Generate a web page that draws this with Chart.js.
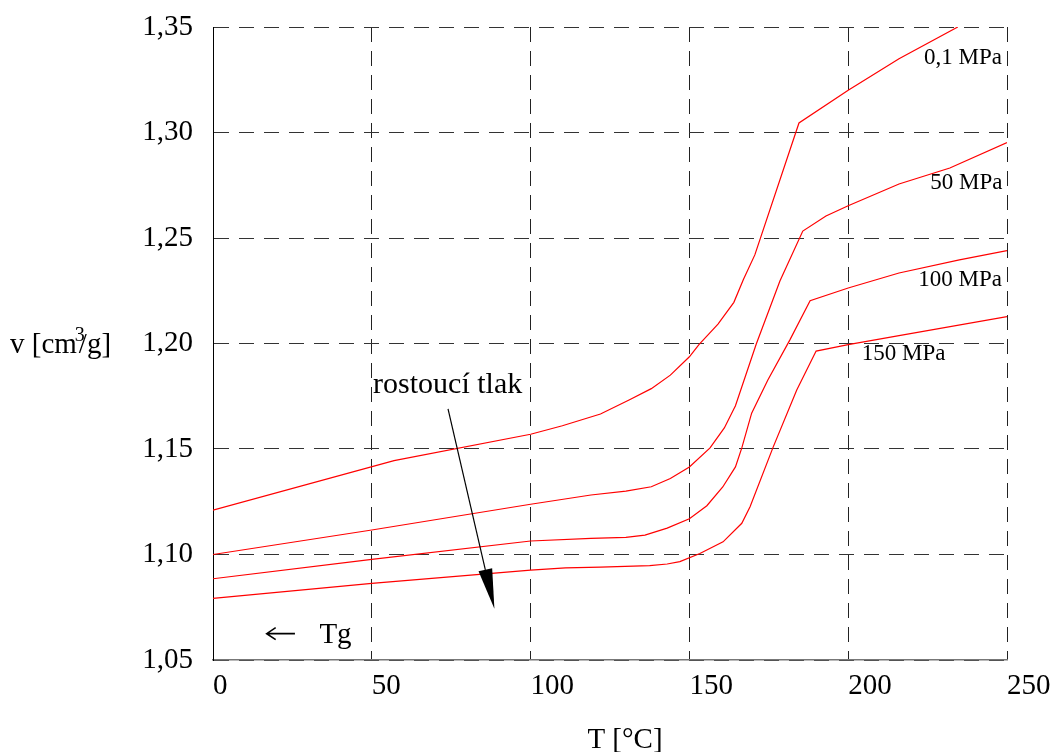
<!DOCTYPE html>
<html>
<head>
<meta charset="utf-8">
<script src="https://cdn.jsdelivr.net/npm/chart.js@4.4.0/dist/chart.umd.min.js"></script>
<style>
  body { margin: 0; background: #fff; }
</style>
</head>
<body>
<canvas id="chart" width="1059" height="752"></canvas>
<script>
// T [°C] and v [cm3/g], one pair of arrays per pressure
const tempP01 = [0, 57, 100, 110, 122, 131, 138, 144, 150, 153, 159, 164, 167, 170.6, 184.5, 200, 216, 234.5];
const volP01  = [1.121, 1.1445, 1.157, 1.161, 1.1666, 1.1732, 1.1786, 1.185, 1.1937, 1.1995, 1.2092, 1.2195, 1.2303, 1.242, 1.3045, 1.320, 1.335, 1.35];

const tempP50 = [0, 50, 100, 119, 130, 138, 144, 150, 156.5, 161, 164.5, 171, 178.5, 185.7, 193, 200, 216, 232, 250];
const volP50  = [1.100, 1.1116, 1.1238, 1.1282, 1.130, 1.1321, 1.136, 1.1415, 1.1505, 1.160, 1.1705, 1.1995, 1.2296, 1.2533, 1.2604, 1.2653, 1.2756, 1.2832, 1.2952];

const tempP100 = [0, 50, 100, 119, 130, 136, 143, 150, 155.5, 160.5, 164.5, 166.5, 169.6, 174.7, 181.6, 188, 200, 216, 235, 250];
const volP100  = [1.0885, 1.0977, 1.1064, 1.1076, 1.1081, 1.1092, 1.1125, 1.1169, 1.1231, 1.132, 1.1415, 1.1505, 1.167, 1.1827, 1.2016, 1.2203, 1.2263, 1.2334, 1.2396, 1.244];

const tempP150 = [0, 50, 100, 111, 122, 137.5, 143, 147, 153.3, 160.6, 166.5, 169.1, 176.4, 183.8, 189.9, 200, 216, 250];
const volP150  = [1.0792, 1.0863, 1.0926, 1.0937, 1.094, 1.0947, 1.0955, 1.0966, 1.1005, 1.106, 1.1148, 1.1226, 1.151, 1.178, 1.1964, 1.1995, 1.2037, 1.2127];

const pressureLabels = ['0,1 MPa', '50 MPa', '100 MPa', '150 MPa'];

const serif = "'Liberation Serif', 'DejaVu Serif', serif";

function pairs(xs, ys) {
  return xs.map((x, i) => ({ x: x, y: ys[i] }));
}

function curve(label, xs, ys) {
  return {
    label: label,
    data: pairs(xs, ys),
    borderColor: 'rgb(255,0,0)',
    borderWidth: 1.2,
    pointRadius: 0,
    tension: 0,
    fill: false
  };
}

// texts, arrows and axis titles drawn on top
const notes = {
  id: 'notes',
  afterDraw(chart) {
    const c = chart.ctx;
    const xs = chart.scales.x, ys = chart.scales.y;
    const px = v => xs.getPixelForValue(v);
    const py = v => ys.getPixelForValue(v);
    c.save();
    c.fillStyle = '#000';
    c.strokeStyle = '#000';

    // curve labels
    c.font = '23px ' + serif;
    c.textBaseline = 'middle';
    c.textAlign = 'right';
    c.fillText(pressureLabels[0], px(248.4), py(1.3353));
    c.fillText(pressureLabels[1], px(248.6), py(1.276));
    c.fillText(pressureLabels[2], px(248.4), py(1.230));
    c.textAlign = 'left';
    c.fillText(pressureLabels[3], px(204.3), py(1.195));

    // rostoucí tlak + arrow
    c.font = '30px ' + serif;
    c.textBaseline = 'alphabetic';
    c.fillText('rostoucí tlak', px(50.4), py(1.1765));
    const x0 = px(74), y0 = py(1.169), x1 = px(88.6), y1 = py(1.0743);
    const ang = Math.atan2(y1 - y0, x1 - x0);
    const hl = 40, hw = 7;
    c.lineWidth = 1.2;
    c.beginPath();
    c.moveTo(x0, y0);
    c.lineTo(x1 - hl * Math.cos(ang), y1 - hl * Math.sin(ang));
    c.stroke();
    c.beginPath();
    c.moveTo(x1, y1);
    c.lineTo(x1 - hl * Math.cos(ang) + hw * Math.sin(ang), y1 - hl * Math.sin(ang) - hw * Math.cos(ang));
    c.lineTo(x1 - hl * Math.cos(ang) - hw * Math.sin(ang), y1 - hl * Math.sin(ang) + hw * Math.cos(ang));
    c.closePath();
    c.fill();

    // Tg marker: left arrow then text
    const ax0 = px(16.9), ax1 = px(25.8), ay = py(1.0625);
    c.lineWidth = 1.6;
    c.beginPath();
    c.moveTo(ax1, ay);
    c.lineTo(ax0, ay);
    c.moveTo(ax0 + 9, ay - 6);
    c.lineTo(ax0, ay);
    c.lineTo(ax0 + 9, ay + 6);
    c.stroke();
    c.font = '29px ' + serif;
    c.fillText('Tg', px(33.5), py(1.058));

    // axis titles
    c.font = '29px ' + serif;
    c.textAlign = 'center';
    c.fillText('T [°C]', 625, 748);

    c.textAlign = 'left';
    c.font = '29px ' + serif;
    let x = 10;
    const base = 353;
    c.fillText('v [cm', x, base);
    x += c.measureText('v [cm').width;
    c.font = '20px ' + serif;
    c.fillText('3', x - 2, base - 12);
    c.font = '29px ' + serif;
    c.fillText('/g]', x + 2, base);
    c.restore();
  }
};

new Chart(document.getElementById('chart'), {
  type: 'line',
  data: {
    datasets: [
      curve(pressureLabels[0], tempP01, volP01),
      curve(pressureLabels[1], tempP50, volP50),
      curve(pressureLabels[2], tempP100, volP100),
      curve(pressureLabels[3], tempP150, volP150)
    ]
  },
  options: {
    responsive: false,
    animation: false,
    layout: { padding: { top: 27, right: 52, left: 0, bottom: 0 } },
    plugins: {
      legend: { display: false },
      tooltip: { enabled: false }
    },
    scales: {
      x: {
        type: 'linear',
        min: 0,
        max: 250,
        afterFit: s => {
          s.height = 92;
          s.paddingLeft = 0;
          s.paddingRight = 0;
        },
        ticks: {
          stepSize: 50,
          align: 'start',
          padding: 9,
          color: '#000',
          font: { family: serif, size: 29 }
        },
        grid: { color: '#222', lineWidth: 1, drawTicks: false },
        border: { display: true, color: '#777', width: 1.5, dash: [15, 9] }
      },
      y: {
        min: 1.05,
        max: 1.35,
        afterFit: s => {
          s.width = 213;
          s.paddingTop = 0;
          s.paddingBottom = 0;
        },
        ticks: {
          stepSize: 0.05,
          padding: 20,
          color: '#000',
          font: { family: serif, size: 29 },
          callback: v => v.toFixed(2).replace('.', ',')
        },
        grid: { color: '#333', lineWidth: 1, drawTicks: false },
        border: { display: true, color: '#000', width: 1, dash: [15, 10] }
      }
    }
  },
  plugins: [notes]
});
</script>
</body>
</html>
